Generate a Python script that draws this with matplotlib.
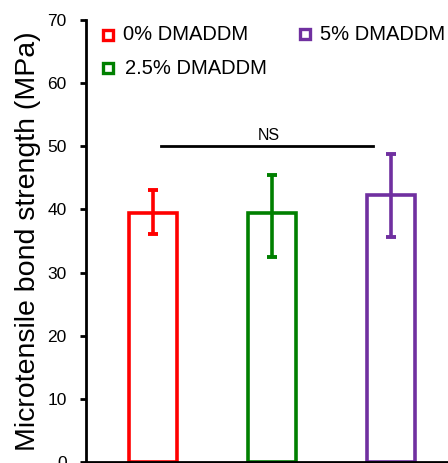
import numpy as np
from matplotlib import pyplot as plt

plt.rcParams['font.family'] = ['Liberation Sans', 'DejaVu Sans']

groups = ['0% DMADDM', '2.5% DMADDM', '5% DMADDM']
means = [39.4, 39.4, 42.3]
err_up = [43.1, 45.5, 48.8]
err_low = [36.1, 32.5, 35.7]
colors = ['#ff0000', '#008000', '#7030a0']
yticks = [0, 10, 20, 30, 40, 50, 60, 70]
ns_level = 50

fig = plt.figure(figsize=(4.48, 4.63), dpi=100)
ax = fig.add_axes([0.192, 0.002, 0.808, 0.955])

x = np.arange(len(groups))
means = np.array(means)
lower = means - np.array(err_low)
upper = np.array(err_up) - means

for i in range(len(groups)):
    ax.bar(x[i], means[i], width=0.41, facecolor='none', edgecolor=colors[i],
           linewidth=2.6, zorder=2)
    ax.errorbar(x[i], means[i], yerr=[[lower[i]], [upper[i]]], color=colors[i],
                elinewidth=2.6, capsize=3.6, capthick=2.8, zorder=3)

# significance line
ax.plot([0.07, 1.85], [ns_level, ns_level], color='black', lw=2)
ax.text(0.97, ns_level + 0.5, 'NS', ha='center', va='bottom', fontsize=11.5)

# legend drawn by hand
leg_pos = [(0.061, 0.966, 0.102), (0.061, 0.891, 0.108), (0.605, 0.968, 0.646)]
for (lx, ly, tx), g, c in zip(leg_pos, groups, colors):
    ax.plot(lx, ly, marker='s', ms=7, mfc='white', mec=c, mew=2.4,
            transform=ax.transAxes, clip_on=False)
    ax.text(tx, ly, g, transform=ax.transAxes, va='center', ha='left',
            fontsize=14.5)

ax.set_xlim(-0.563, 2.48)
ax.set_ylim(0, 70)
ax.set_yticks(yticks)
ax.set_xticks([])
ax.tick_params(axis='y', labelsize=12.5, width=2, length=4, pad=10,
               direction='out')
ax.spines['top'].set_visible(False)
ax.spines['right'].set_visible(False)
ax.spines['left'].set_linewidth(2)
ax.spines['bottom'].set_linewidth(2)
ax.set_ylabel('Microtensile bond strength (MPa)', fontsize=20.5)
ax.yaxis.set_label_coords(-0.124, 0.5)

fig.savefig('out.png', dpi=100)
